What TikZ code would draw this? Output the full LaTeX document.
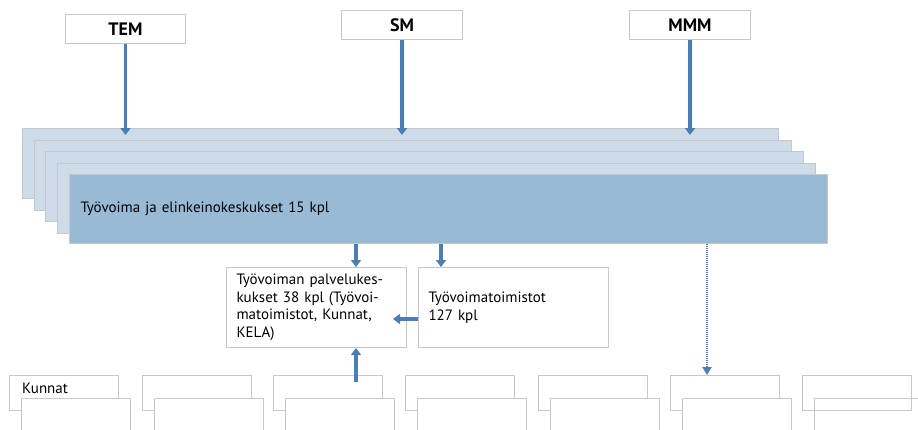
\documentclass[tikz,border=0pt]{standalone}
\usepackage{fontspec}
\setmainfont{PT Sans}
\usetikzlibrary{arrows.meta}
\definecolor{arrowblue}{HTML}{4A7EB4}
\definecolor{stacklight}{HTML}{CDDCE8}
\definecolor{stackfront}{HTML}{99BAD4}
\definecolor{edgegrey}{HTML}{C6C9CC}
\begin{document}
\begin{tikzpicture}[x=1pt,y=-1pt,
  wbox/.style={draw=edgegrey, line width=1pt, fill=white, inner sep=0pt, anchor=north west},
  topbox/.style={wbox, minimum height=29pt, font=\fontsize{18}{21}\selectfont\bfseries},
  stackbox/.style={draw=edgegrey, line width=1pt, fill=stacklight, inner sep=0pt, anchor=north west, minimum height=70pt},
  txt/.style={font=\fontsize{15}{17.5}\selectfont},
  arr/.style={draw=arrowblue, line width=3.5pt, -{Triangle[length=7pt,width=10pt]}},
  dotarr/.style={draw=arrowblue, line width=2.5pt, dash pattern=on 1.2pt off 0.8pt, -{Triangle[length=8pt,width=9pt]}}
]
\useasboundingbox (0,0) rectangle (918,429);

% top boxes
\node[topbox, minimum width=120pt] (tem) at (65,14) {TEM};
\node[topbox, minimum width=121pt] (sm) at (341,10) {SM};
\node[topbox, minimum width=121pt] (mmm) at (629,10) {MMM};

% stack
\node[stackbox, minimum width=756pt] (s1) at (22,128) {};
\node[stackbox, minimum width=757pt] (s2) at (34,140) {};
\node[stackbox, minimum width=758pt] (s3) at (45,151) {};
\node[stackbox, minimum width=758pt] (s4) at (57,163) {};
\node[stackbox, fill=stackfront, minimum height=69pt, text width=736pt, inner xsep=11pt, align=left, txt] (s5) at (69,174) {Työvoima ja elinkeinokeskukset 15 kpl};

% top arrows
\draw[arr] (tem.south) -- ([yshift=-7pt]s1.north -| tem.south);
\draw[arr] (sm.south) -- ([yshift=-7pt]s1.north -| sm.south);
\draw[arr] (mmm.south) -- ([yshift=-7pt]s1.north -| mmm.south);

% middle boxes
\node[wbox, minimum height=80pt, text width=160pt, inner xsep=10pt, align=left, txt] (lp) at (226,267)
  {Työvoiman palvelukes-\\kukset 38 kpl (Työvoi-\\matoimistot, Kunnat,\\KELA)};
\node[wbox, minimum height=80pt, text width=170pt, inner xsep=10pt, align=left, txt] (rp) at (418,267)
  {Työvoimatoimistot\\127 kpl};

% bottom boxes
\foreach \i/\x in {1/9,2/142,3/273,4/405,5/538,6/670}{
  \node[wbox, minimum width=109pt, minimum height=35pt] (b\i) at (\x,375) {};
  \node[wbox, minimum width=109pt, minimum height=45pt] (f\i) at (\x+12,398) {};
}
\node[wbox, fill=none, minimum width=109pt, minimum height=35pt] (b7) at (802,375) {};
\node[wbox, fill=none, minimum width=109pt, minimum height=45pt] (f7) at (814,398) {};
\node[txt, anchor=base west, inner sep=0pt] (kunnat) at (22,393) {Kunnat};

% lower connectors
\coordinate (xa) at (356,0);
\coordinate (xb) at (441,0);
\coordinate (xc) at (707,0);
\coordinate (hend) at (393,319);
\coordinate (ustart) at (356,382);
\draw[arr] (s5.south -| xa) -- (lp.north -| xa);
\draw[arr] (s5.south -| xb) -- (rp.north -| xb);
\draw[arr] (rp.west |- hend) -- (hend);
\draw[arr] (ustart) -- (ustart |- lp.south);
\draw[dotarr] (s5.south -| xc) -- (b6.north -| xc);
\end{tikzpicture}
\end{document}
